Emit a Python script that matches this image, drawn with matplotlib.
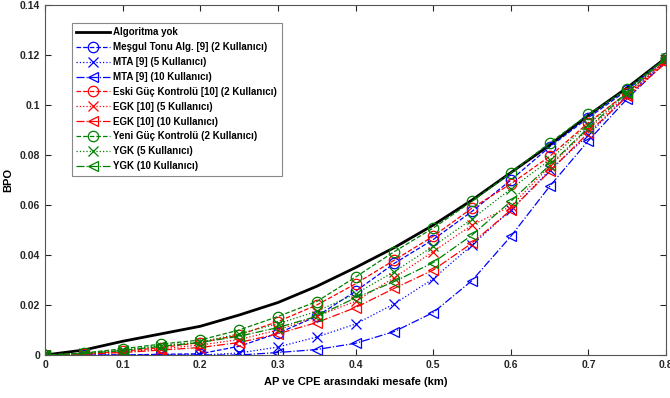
import matplotlib
matplotlib.use("Agg")
import matplotlib.pyplot as plt

plt.rcParams["font.family"] = ["Liberation Sans", "DejaVu Sans"]
plt.rcParams["font.weight"] = "bold"

# Distance between AP and CPE (km)
distance = [0, 0.05, 0.1, 0.15, 0.2, 0.25, 0.3, 0.35, 0.4,
            0.45, 0.5, 0.55, 0.6, 0.65, 0.7, 0.75, 0.8]

no_algorithm = [0, 0.002, 0.0055, 0.0085, 0.0115, 0.016, 0.021, 0.0275, 0.035,
                0.043, 0.052, 0.062, 0.073, 0.084, 0.096, 0.107, 0.119]

mta_2 = [0, 0, 0, 0.0003, 0.0005, 0.0035, 0.0087, 0.0155, 0.0255,
         0.0367, 0.0462, 0.0575, 0.070, 0.0833, 0.095, 0.106, 0.119]
mta_5 = [0, 0, 0, 0, 0, 0.0008, 0.0032, 0.0072, 0.0124,
         0.0205, 0.0305, 0.044, 0.058, 0.074, 0.088, 0.104, 0.118]
mta_10 = [0, 0, 0, 0, 0, 0, 0.001, 0.0022, 0.0047,
          0.0094, 0.017, 0.0298, 0.0475, 0.0675, 0.0858, 0.1026, 0.1175]

egk_2 = [0, 0.0005, 0.0015, 0.003, 0.005, 0.008, 0.0134, 0.020, 0.0285,
         0.038, 0.0475, 0.0588, 0.0685, 0.0795, 0.093, 0.105, 0.118]
egk_5 = [0, 0.0004, 0.0012, 0.0025, 0.004, 0.0062, 0.010, 0.0155, 0.0215,
         0.031, 0.0414, 0.052, 0.0595, 0.0755, 0.0905, 0.104, 0.1175]
egk_10 = [0, 0.0003, 0.001, 0.002, 0.003, 0.005, 0.0085, 0.013, 0.019,
          0.0267, 0.034, 0.0448, 0.058, 0.0735, 0.089, 0.1035, 0.117]

ygk_2 = [0, 0.0008, 0.0025, 0.0044, 0.006, 0.010, 0.0154, 0.0214, 0.0312,
         0.0414, 0.0508, 0.0615, 0.0729, 0.0849, 0.0963, 0.1065, 0.119]
ygk_5 = [0, 0.0007, 0.002, 0.0038, 0.0052, 0.0085, 0.0125, 0.0175, 0.0245,
         0.0334, 0.0435, 0.0544, 0.0665, 0.078, 0.0925, 0.105, 0.119]
ygk_10 = [0, 0.0006, 0.0018, 0.0035, 0.005, 0.0075, 0.011, 0.0155, 0.0229,
          0.0294, 0.037, 0.048, 0.0615, 0.076, 0.091, 0.105, 0.119]

x_ticks = [0, 0.1, 0.2, 0.3, 0.4, 0.5, 0.6, 0.7, 0.8]
x_tick_labels = ["0", "0.1", "0.2", "0.3", "0.4", "0.5", "0.6", "0.7", "0.8"]
y_ticks = [0, 0.02, 0.04, 0.06, 0.08, 0.1, 0.12, 0.14]
y_tick_labels = ["0", "0.02", "0.04", "0.06", "0.08", "0.1", "0.12", "0.14"]

blue = (0, 0, 1)
red = (1, 0, 0)
green = (0, 0.5, 0)

fig = plt.figure(figsize=(6.7, 3.98), dpi=100)
ax = fig.add_axes([0.0672, 0.108, 0.927, 0.879])

ax.plot(distance, no_algorithm, color="black", linewidth=2, label="Algoritma yok")

series = [
    (mta_2, blue, "--", "o", "Meşgul Tonu Alg. [9] (2 Kullanıcı)"),
    (mta_5, blue, ":", "x", "MTA [9] (5 Kullanıcı)"),
    (mta_10, blue, "-.", "<", "MTA [9] (10 Kullanıcı)"),
    (egk_2, red, "--", "o", "Eski Güç Kontrolü [10] (2 Kullanıcı)"),
    (egk_5, red, ":", "x", "EGK [10] (5 Kullanıcı)"),
    (egk_10, red, "-.", "<", "EGK [10] (10 Kullanıcı)"),
    (ygk_2, green, "--", "o", "Yeni Güç Kontrolü (2 Kullanıcı)"),
    (ygk_5, green, ":", "x", "YGK (5 Kullanıcı)"),
    (ygk_10, green, "-.", "<", "YGK (10 Kullanıcı)"),
]
for values, color, style, marker, label in series:
    ax.plot(distance, values, color=color, linestyle=style, linewidth=0.9,
            marker=marker, markersize=7.5, markerfacecolor="none",
            markeredgecolor=color, markeredgewidth=0.9, label=label)

ax.set_xlim(0, 0.8)
ax.set_ylim(0, 0.14)
ax.set_xticks(x_ticks)
ax.set_xticklabels(x_tick_labels)
ax.set_yticks(y_ticks)
ax.set_yticklabels(y_tick_labels)
ax.tick_params(direction="in", top=True, right=True, length=4,
               labelsize=7.5, colors="#262626", width=0.8)
for spine in ax.spines.values():
    spine.set_color("#555555")
    spine.set_linewidth(0.8)

ax.set_xlabel("AP ve CPE arasındaki mesafe (km)", fontsize=8, fontweight="bold", labelpad=5)
ax.set_ylabel("BPO", fontsize=8, fontweight="bold", labelpad=5)

leg = ax.legend(loc="upper left", bbox_to_anchor=(0.0435, 0.949), borderaxespad=0,
                fontsize=7, handlelength=3.5, labelspacing=0.5, borderpad=0.45,
                fancybox=False, framealpha=1, handletextpad=0.3)
leg.get_frame().set_edgecolor("#888888")
leg.get_frame().set_linewidth(0.8)

fig.savefig("out.png", dpi=100)
